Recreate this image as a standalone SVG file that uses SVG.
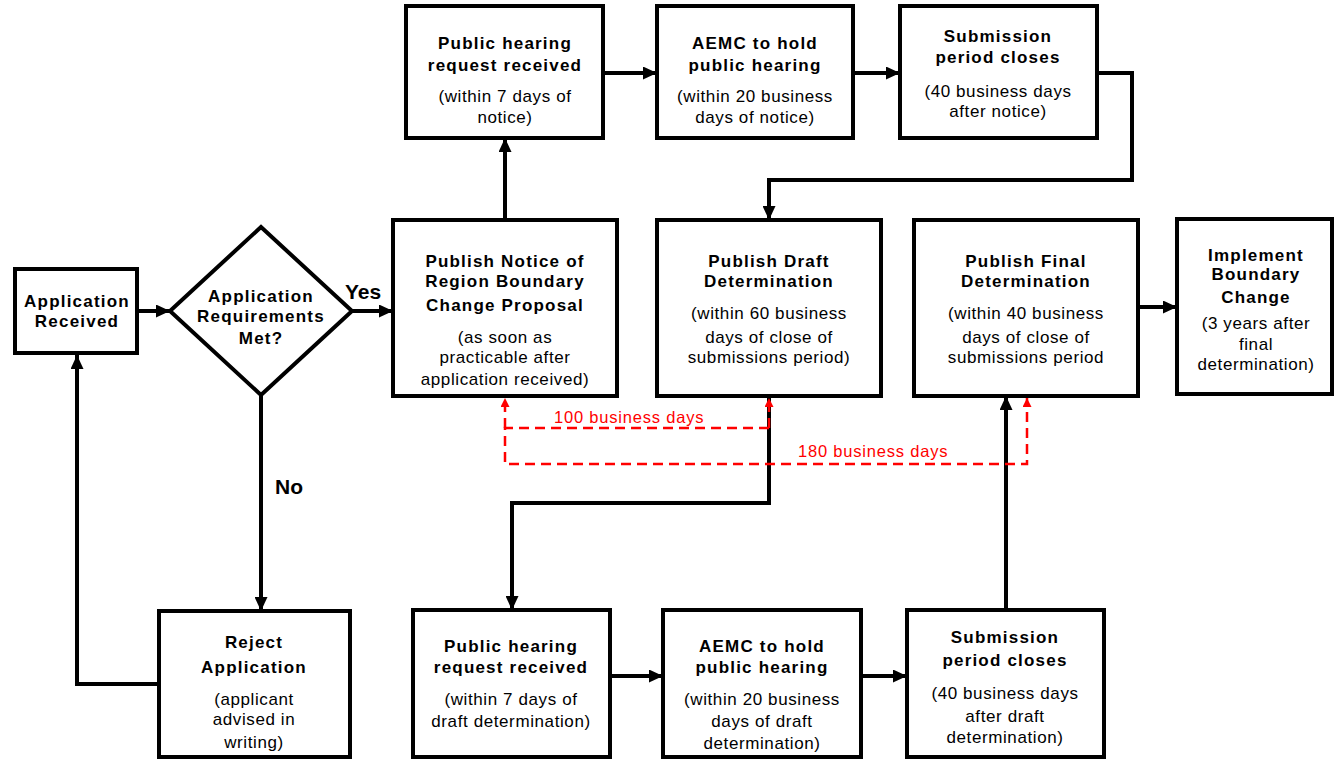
<svg xmlns="http://www.w3.org/2000/svg" width="1335" height="760" viewBox="0 0 1335 760">
<style>
.box{fill:#fff;stroke:#000;stroke-width:4}
.t{font-family:"Liberation Sans",Arial,sans-serif;font-weight:bold;font-size:17px;letter-spacing:1.2px;text-anchor:middle;fill:#000}
.s{font-family:"Liberation Sans",Arial,sans-serif;font-size:17px;letter-spacing:0.6px;text-anchor:middle;fill:#000}
.lbl{font-family:"Liberation Sans",Arial,sans-serif;font-weight:bold;font-size:21px;fill:#000}
.red{font-family:"Liberation Sans",Arial,sans-serif;font-size:16.5px;letter-spacing:0.8px;fill:#f00}
.c{fill:none;stroke:#000;stroke-width:4;marker-end:url(#ah)}
.d{fill:none;stroke:#f00;stroke-width:2.5;stroke-dasharray:10 6}
</style>
<defs>
<marker id="ah" markerUnits="userSpaceOnUse" markerWidth="14" markerHeight="13" refX="14" refY="6.5" orient="auto"><path d="M0,0 L14,6.5 L0,13 z" fill="#000"/></marker>
<marker id="rh" markerUnits="userSpaceOnUse" markerWidth="9" markerHeight="9" refX="9" refY="4.5" orient="auto"><path d="M0,0 L9,4.5 L0,9 z" fill="#f00"/></marker>
</defs>
<g id="connectors">
<path class="c" d="M137,311 H170"/>
<path class="c" d="M352,311 H393"/>
<path class="c" d="M261,395 V611"/>
<path class="c" d="M159,684 H77 V355"/>
<path class="c" d="M505,220 V138"/>
<path class="c" d="M603,73 H657"/>
<path class="c" d="M853,73 H900"/>
<path class="c" d="M1097,73 H1132 V180 H769 V220"/>
<path class="c" d="M1138,307 H1177"/>
<path class="c" d="M769,396 V503 H512 V610"/>
<path class="c" d="M610,676 H663"/>
<path class="c" d="M861,676 H907"/>
<path class="c" d="M1006,610 V396"/>
<path class="d" d="M769,428 H505 V464 H1027 V398" marker-end="url(#rh)"/>
<path class="d" d="M505,428 V398" marker-end="url(#rh)"/>
<path class="d" d="M769,428 V398" marker-end="url(#rh)"/>
<text class="red" x="554" y="423">100 business days</text>
<text class="red" x="798" y="457">180 business days</text>
<text class="lbl" x="345" y="299">Yes</text>
<text class="lbl" x="275" y="494">No</text>
</g>
<g id="app-received">
<rect class="box" x="15" y="269" width="122" height="84"/>
<text class="t" x="77" y="307">Application</text>
<text class="t" x="77" y="327">Received</text>
</g>
<g id="requirements-met">
<path class="box" d="M261,227 L352,311 L261,395 L170,311 z"/>
<text class="t" x="261" y="302">Application</text>
<text class="t" x="261" y="322">Requirements</text>
<text class="t" x="261" y="344">Met?</text>
</g>
<g id="publish-notice">
<rect class="box" x="393" y="220" width="224" height="176"/>
<text class="t" x="505" y="267">Publish Notice of</text>
<text class="t" x="505" y="287">Region Boundary</text>
<text class="t" x="505" y="311">Change Proposal</text>
<text class="s" x="505" y="343">(as soon as</text>
<text class="s" x="505" y="363">practicable after</text>
<text class="s" x="505" y="385">application received)</text>
</g>
<g id="hearing-request-1">
<rect class="box" x="406" y="6" width="197" height="132"/>
<text class="t" x="505" y="49">Public hearing</text>
<text class="t" x="505" y="71">request received</text>
<text class="s" x="505" y="102">(within 7 days of</text>
<text class="s" x="505" y="123">notice)</text>
</g>
<g id="aemc-hearing-1">
<rect class="box" x="657" y="6" width="196" height="132"/>
<text class="t" x="755" y="49">AEMC to hold</text>
<text class="t" x="755" y="71">public hearing</text>
<text class="s" x="755" y="102">(within 20 business</text>
<text class="s" x="755" y="123">days of notice)</text>
</g>
<g id="submission-1">
<rect class="box" x="900" y="6" width="197" height="132"/>
<text class="t" x="998" y="42">Submission</text>
<text class="t" x="998" y="63">period closes</text>
<text class="s" x="998" y="97">(40 business days</text>
<text class="s" x="998" y="117">after notice)</text>
</g>
<g id="publish-draft">
<rect class="box" x="657" y="220" width="224" height="176"/>
<text class="t" x="769" y="267">Publish Draft</text>
<text class="t" x="769" y="287">Determination</text>
<text class="s" x="769" y="319">(within 60 business</text>
<text class="s" x="769" y="343">days of close of</text>
<text class="s" x="769" y="363">submissions period)</text>
</g>
<g id="publish-final">
<rect class="box" x="914" y="220" width="224" height="176"/>
<text class="t" x="1026" y="267">Publish Final</text>
<text class="t" x="1026" y="287">Determination</text>
<text class="s" x="1026" y="319">(within 40 business</text>
<text class="s" x="1026" y="343">days of close of</text>
<text class="s" x="1026" y="363">submissions period</text>
</g>
<g id="implement">
<rect class="box" x="1177" y="219" width="155" height="175"/>
<text class="t" x="1256" y="261">Implement</text>
<text class="t" x="1256" y="280">Boundary</text>
<text class="t" x="1256" y="303">Change</text>
<text class="s" x="1256" y="329">(3 years after</text>
<text class="s" x="1256" y="350">final</text>
<text class="s" x="1256" y="370">determination)</text>
</g>
<g id="reject">
<rect class="box" x="159" y="611" width="191" height="146"/>
<text class="t" x="254" y="648">Reject</text>
<text class="t" x="254" y="673">Application</text>
<text class="s" x="254" y="705">(applicant</text>
<text class="s" x="254" y="725">advised in</text>
<text class="s" x="254" y="748">writing)</text>
</g>
<g id="hearing-request-2">
<rect class="box" x="413" y="610" width="197" height="147"/>
<text class="t" x="511" y="652">Public hearing</text>
<text class="t" x="511" y="673">request received</text>
<text class="s" x="511" y="705">(within 7 days of</text>
<text class="s" x="511" y="727">draft determination)</text>
</g>
<g id="aemc-hearing-2">
<rect class="box" x="663" y="610" width="198" height="147"/>
<text class="t" x="762" y="652">AEMC to hold</text>
<text class="t" x="762" y="673">public hearing</text>
<text class="s" x="762" y="705">(within 20 business</text>
<text class="s" x="762" y="727">days of draft</text>
<text class="s" x="762" y="749">determination)</text>
</g>
<g id="submission-2">
<rect class="box" x="907" y="610" width="197" height="147"/>
<text class="t" x="1005" y="643">Submission</text>
<text class="t" x="1005" y="666">period closes</text>
<text class="s" x="1005" y="699">(40 business days</text>
<text class="s" x="1005" y="722">after draft</text>
<text class="s" x="1005" y="743">determination)</text>
</g>
</svg>
